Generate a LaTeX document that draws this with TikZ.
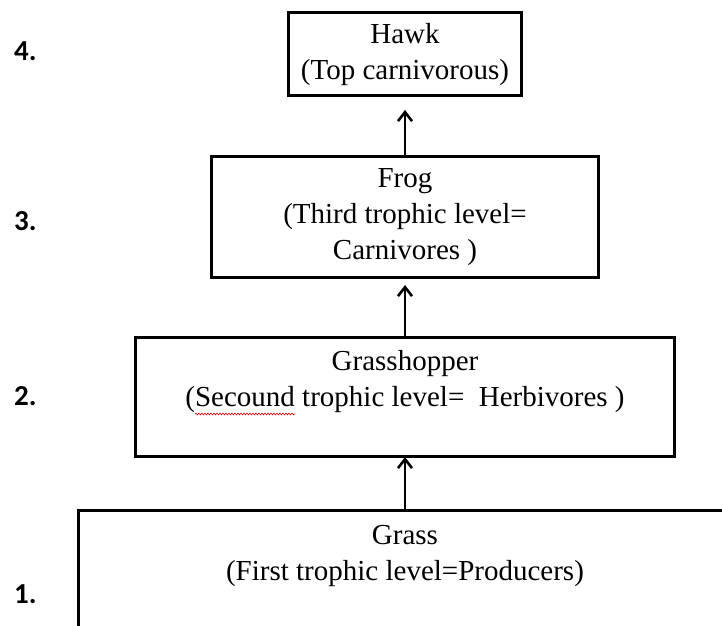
\documentclass[tikz,border=0pt]{standalone}
\usepackage{fontspec}
\setmainfont{Liberation Serif}
\newfontfamily\levelfont{Carlito}
\usetikzlibrary{arrows.meta,positioning,decorations.pathmorphing}

\begin{document}
\begin{tikzpicture}[x=1pt, y=1pt, font=\fontsize{29}{36}\selectfont,
    level/.style={draw, rectangle, line width=3pt, align=center, inner sep=0pt, outer sep=0pt},
    feeds/.style={-{Straight Barb[length=9pt,width=14pt]}, line width=2.6pt},
    levelnum/.style={font=\levelfont\bfseries\fontsize{29}{36}\selectfont, anchor=base west, inner sep=0pt},
    spellcheck/.style={red!85!black, line width=0.6pt, decorate, decoration={snake, amplitude=0.9pt, segment length=3pt}}]
    \useasboundingbox (0,0) rectangle (722,625);

    % Trophic levels, bottom to top
    \node[level, minimum width=654pt, minimum height=122pt] (grass) at (405,54) {Grass\\(First trophic level=Producers)\\\mbox{}};
    \node[level, minimum width=539pt, minimum height=119pt, above=54pt of grass] (hopper) {Grasshopper\\(Secound trophic level=\ \ Herbivores )\\\mbox{}};
    \node[level, minimum width=387pt, minimum height=120pt, above=60pt of hopper] (frog) {Frog\\(Third trophic level=\\Carnivores )};
    \node[level, minimum width=233pt, minimum height=83pt, above=61pt of frog] (hawk) {Hawk\\(Top carnivorous)};

    % wavy underline under "Secound"
    \draw[spellcheck] ([xshift=-210pt, yshift=-77pt]hopper.north) -- ([xshift=-110pt, yshift=-77pt]hopper.north);

    % Level numbers on the left
    \foreach \n/\y in {4/564, 3/395, 2/220, 1/22}
        \node[levelnum] (num\n) at (14,\y) {\n.};

    % Energy flow arrows
    \draw[feeds, shorten >=1pt] (grass) -- (hopper);
    \draw[feeds, shorten >=8pt] (hopper) -- (frog);
    \draw[feeds, shorten >=14pt] (frog) -- (hawk);
\end{tikzpicture}
\end{document}
